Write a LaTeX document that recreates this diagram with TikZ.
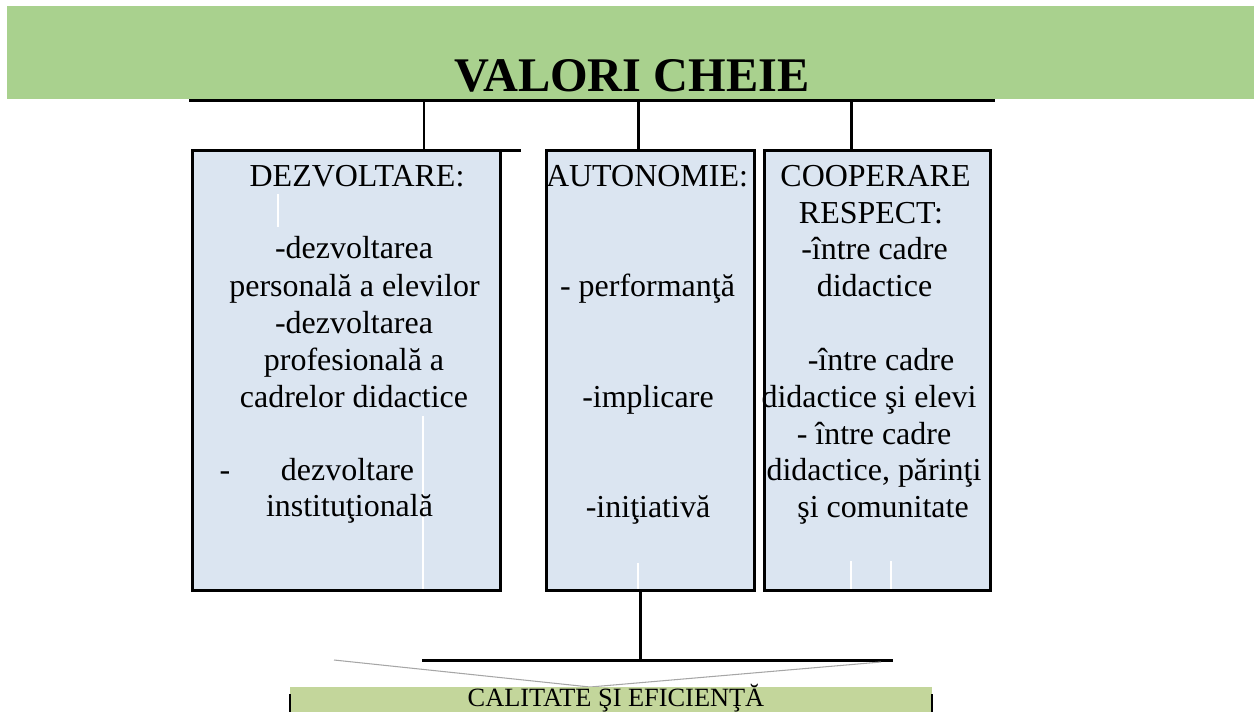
\documentclass[tikz,border=0pt]{standalone}
\usepackage{fontspec}
\setmainfont{Liberation Serif}
\newfontfamily\titlefont{Liberation Serif}[UprightFont={* Bold}]
\definecolor{headgreen}{HTML}{A9D18E}
\definecolor{calgreen}{HTML}{C3D69B}
\definecolor{boxblue}{HTML}{DBE5F1}
\tikzset{
  bar/.style={line width=1.7pt},
  vbox/.style={draw, line width=1.7pt, fill=boxblue, rectangle, inner sep=0pt, outer sep=0pt},
  txt/.style={anchor=base, inner sep=0pt, font=\rmfamily\fontsize{18.2}{21}\selectfont},
  guide/.style={draw=gray!70, line width=0.6pt},
  flaw/.style={draw=white, line width=0.7pt}
}
\begin{document}
\begin{tikzpicture}[x=0.02cm, y=-0.02cm]
\useasboundingbox (0,0) rectangle (1254,711);
% header band
\fill[headgreen] (7,6) rectangle (1254,99);
\node[anchor=base, inner sep=0pt, font=\titlefont\fontsize{27.5}{30}\selectfont] (title) at (632,91) {VALORI CHEIE};
% top bar
\coordinate (barL) at (189,100);
\coordinate (barR) at (995,100);
\draw[bar] (barL) -- (barR);
% boxes
\node[vbox, minimum width=6.18cm, minimum height=8.82cm] (L) at (346.5,370.5) {};
\node[vbox, minimum width=4.18cm, minimum height=8.82cm] (M) at (650.5,370.5) {};
\node[vbox, minimum width=4.54cm, minimum height=8.82cm] (R) at (877.5,370.5) {};
\draw[bar] (L.north west) -- ([xshift=0.4cm]L.north east);
% connectors from bar to boxes
\coordinate (t1) at (424,100);
\coordinate (t2) at (638,100);
\coordinate (t3) at (851,100);
\draw[bar] (t1) -- (t1 |- L.north);
\draw[bar] (t2) -- (t2 |- M.north);
\draw[bar] (t3) -- (t3 |- R.north);
% small white flaws inside boxes
\draw[flaw] (278,194) -- (278,227);
\draw[flaw] (423,416) -- (423,589);
\draw[flaw] (638,563) -- (638,589);
\draw[flaw] (851,561) -- (851,589);
\draw[flaw] (891,561) -- (891,589);
% left box text
\node[txt] (l1) at (357,186) {DEZVOLTARE:};
\node[txt] (l2) at (354,258) {-dezvoltarea};
\node[txt] (l3) at (354.5,296) {personală a elevilor};
\node[txt] (l4) at (354,333) {-dezvoltarea};
\node[txt] (l5) at (354,370) {profesională a};
\node[txt] (l6) at (354,407) {cadrelor didactice};
\node[txt] (l7a) at (225,480) {-};
\node[txt] (l7) at (347.5,480) {dezvoltare};
\node[txt] (l8) at (349.5,516) {instituţională};
% middle box text
\node[txt] (m1) at (647,186) {AUTONOMIE:};
\node[txt] (m2) at (647.5,296) {- performanţă};
\node[txt] (m3) at (648,407) {-implicare};
\node[txt] (m4) at (648,517) {-iniţiativă};
% right box text
\node[txt] (r1) at (875.5,186) {COOPERARE};
\node[txt] (r2) at (871,223) {RESPECT:};
\node[txt] (r3) at (874.5,259) {-între cadre};
\node[txt] (r4) at (874.5,296) {didactice};
\node[txt] (r5) at (881,370) {-între cadre};
\node[txt] (r6) at (869,407) {didactice şi elevi};
\node[txt] (r7) at (874,444) {- între cadre};
\node[txt] (r8) at (874,480) {didactice, părinţi};
\node[txt] (r9) at (883,517) {şi comunitate};
% bottom connector
\coordinate (bm) at (640,660);
\coordinate (bL) at (422,660);
\coordinate (bR) at (893,660);
\draw[bar] (bm |- M.south) -- (bm);
\draw[bar] (bL) -- (bR);
% grey guide lines
\coordinate (gL) at (334,660);
\coordinate (gR) at (881,662);
\coordinate (gV) at (590,687);
\draw[guide] (gL) -- (gV) -- (gR);
% bottom result box
\fill[calgreen] (290,687) rectangle (932,720);
\node[anchor=base, inner sep=0pt, font=\rmfamily\fontsize{15}{18}\selectfont] (cal) at (616,706) {CALITATE ŞI EFICIENŢĂ};
\coordinate (cl) at (290,694);
\coordinate (cr) at (932,694);
\draw[line width=0.8pt] (cl) -- (cl |- 0,720);
\draw[line width=0.8pt] (cr) -- (cr |- 0,720);
\end{tikzpicture}
\end{document}
